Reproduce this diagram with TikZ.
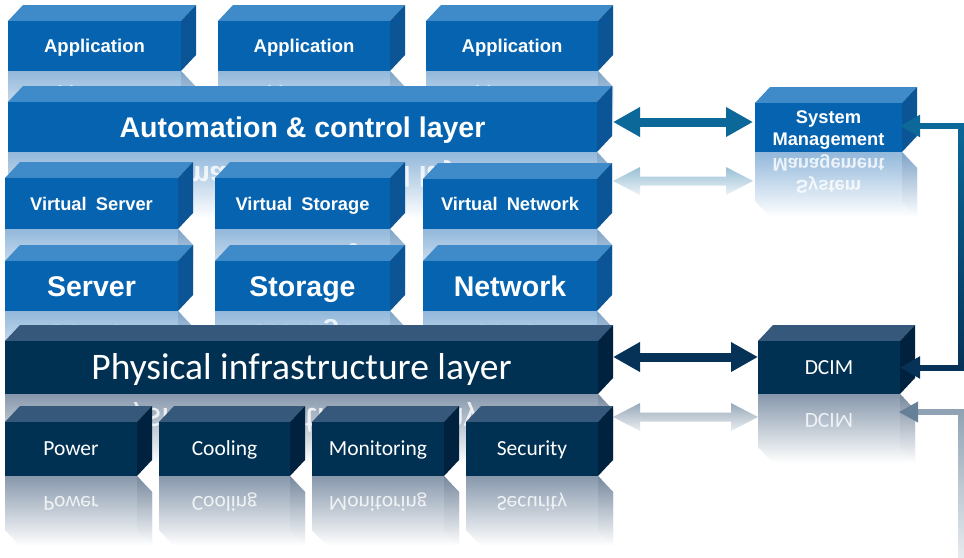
\documentclass[tikz,border=0pt]{standalone}
\usepackage{fontspec}
\setmainfont{Liberation Sans}
\newfontfamily\calib{Carlito}
\usetikzlibrary{arrows.meta,calc}

\definecolor{BF}{RGB}{5,99,176}
\definecolor{BT}{RGB}{63,138,201}
\definecolor{BS}{RGB}{11,84,149}
\definecolor{BR}{RGB}{146,184,219}
\definecolor{BRS}{RGB}{126,163,199}
\definecolor{NF}{RGB}{0,48,82}
\definecolor{NT}{RGB}{54,88,122}
\definecolor{NS}{RGB}{0,34,63}
\definecolor{NR}{RGB}{135,152,172}
\definecolor{NRS}{RGB}{118,136,158}
\definecolor{Teal}{RGB}{11,104,153}
\definecolor{NavyA}{RGB}{6,50,88}

\tikzset{
  fA/.style={text height=13.2pt, text depth=0pt, font={\fontsize{18.5}{21}\selectfont\bfseries}},
  fB/.style={text height=20.4pt, text depth=0pt, font={\fontsize{28.5}{32}\selectfont\bfseries}},
  fV/.style={text height=13.1pt, text depth=0pt, font={\fontsize{18.3}{21}\selectfont\bfseries}},
  fS/.style={text height=13.1pt, text depth=0pt, yshift=-11pt, font={\fontsize{18.3}{22}\selectfont\bfseries}, align=center},
  fP/.style={text height=24.2pt, text depth=0pt, font={\calib\fontsize{37.5}{40}\selectfont}},
  fN/.style={text height=13.9pt, text depth=0pt, font={\calib\fontsize{21.5}{24}\selectfont}},
  bigarrow/.style={line width=9pt, {Triangle[length=27pt,width=28pt]}-{Triangle[length=27pt,width=28pt]}},
  conn/.style={line width=6pt, -{Triangle[length=20pt,width=21pt]}},
}

% #1 name, #2 x1, #3 y top, #4 x2, #5 y bottom, #6 palette, #7 font style, #8 text
\newcommand\mkcube[8]{%
  \pgfmathsetmacro\cH{#5-#3}%
  \pgfmathsetmacro\cR{#5+\cH}%
  \pgfmathsetmacro\cXm{(#2+#4)/2}%
  \pgfmathsetmacro\cYm{(#3+#5)/2}%
  \pgfmathsetmacro\cYr{2*#5-\cYm}%
  \shade[top color=#6R, bottom color=white]
    (#2,#5) -- (#4,#5) -- (#4+15,#5+16) -- (#4+15,\cR+16) -- (#2+15,\cR+16) -- (#2,\cR) -- cycle;
  \shade[top color=#6RS, bottom color=white]
    (#4,#5) -- (#4+15,#5+16) -- (#4+15,\cR+16) -- (#4,\cR) -- cycle;
  \begin{scope}[shift={(\cXm,\cYr)}]
    \node[yscale=-1, transform shape, inner sep=0pt, #7, text=white, opacity=.8] (#1r) at (0,0) {#8};
  \end{scope}
  \fill[#6T] (#2,#3) -- (#2+15,#3-16) -- (#4+15,#3-16) -- (#4,#3) -- cycle;
  \fill[#6S] (#4,#3) -- (#4+15,#3-16) -- (#4+15,#5-16) -- (#4,#5) -- cycle;
  \fill[#6F] (#2,#3) rectangle (#4,#5);
  \node[#7, text=white, inner sep=0pt] (#1) at (\cXm,\cYm) {#8};
  \coordinate (#1-e) at (#4,\cYm);
  \coordinate (#1-w) at (#2,\cYm);
}

\begin{document}
\begin{tikzpicture}[x=1pt,y=-1pt]
\useasboundingbox[fill=white] (0,0) rectangle (964,557);

% row 1
\mkcube{app1}{8}{21}{181}{71}{B}{fA}{Application}
\mkcube{app2}{218}{21}{390}{71}{B}{fA}{Application}
\mkcube{app3}{426}{21}{598}{71}{B}{fA}{Application}

% system management
\mkcube{sys}{755}{103}{902}{152}{B}{fS}{System\\Management}

% automation
\mkcube{auto}{8}{102}{597}{152}{B}{fB}{Automation \& control layer}

% reflection of top arrow
\shade[top color=Teal!42!white, bottom color=Teal!8!white]
  (613,181) -- (640,167) -- (640,176.5) -- (726,176.5) -- (726,167) -- (753,181)
  -- (726,195) -- (726,185.5) -- (640,185.5) -- (640,195) -- cycle;

% virtual row
\mkcube{vserver}{5}{178}{178}{229}{B}{fV}{Virtual\hspace{0.5em}Server}
\mkcube{vstorage}{215}{178}{390}{229}{B}{fV}{Virtual\hspace{0.5em}Storage}
\mkcube{vnetwork}{423}{179}{597}{229}{B}{fV}{Virtual\hspace{0.5em}Network}

% hardware row
\mkcube{server}{5}{261}{178}{311}{B}{fB}{Server}
\mkcube{storage}{215}{261}{390}{311}{B}{fB}{Storage}
\mkcube{network}{423}{261}{597}{311}{B}{fB}{Network}

% infrastructure
\mkcube{phys}{5}{341}{598}{394}{N}{fP}{Physical infrastructure layer}
\mkcube{dcim}{758}{341}{900}{394}{N}{fN}{DCIM}

% reflection of bottom arrow
\shade[top color=NavyA!42!white, bottom color=NavyA!8!white]
  (613,417) -- (640,403) -- (640,412.5) -- (731,412.5) -- (731,403) -- (758,417)
  -- (731,431) -- (731,421.5) -- (640,421.5) -- (640,431) -- cycle;

% bottom row
\mkcube{power}{5}{422}{137}{476}{N}{fN}{Power}
\mkcube{cooling}{159}{422}{290}{476}{N}{fN}{Cooling}
\mkcube{monitoring}{312}{422}{444}{476}{N}{fN}{Monitoring}
\mkcube{security}{466}{422}{598}{476}{N}{fN}{Security}

% reflection of right connector
\shade[top color=NavyA!45!white, bottom color=NavyA!10!white] (958,409) rectangle (964,557);
\fill[NavyA!45!white] (918,409) rectangle (961,415);
\fill[NavyA!62!white] (899,412) -- (918,401.5) -- (918,422.5) -- cycle;

% connectors
\draw[bigarrow, Teal] ($(auto-e)+(16,-5)$) -- ($(sys-w)+(-2,-5.5)$);
\draw[bigarrow, NavyA] ($(phys-e)+(15,-10.5)$) -- ($(dcim-w)+(0,-10.5)$);

\coordinate (rcTop) at (961,126);
\coordinate (rcBot) at (961,367.5);
\shade[top color=Teal, bottom color=NavyA] ($(rcTop)+(-3,-3)$) rectangle ($(rcBot)+(3,3)$);
\draw[conn, Teal] (rcTop) -- ($(sys-e)+(-2,-1.5)$);
\draw[conn, NavyA] (rcBot) -- (dcim-e);
\end{tikzpicture}
\end{document}
